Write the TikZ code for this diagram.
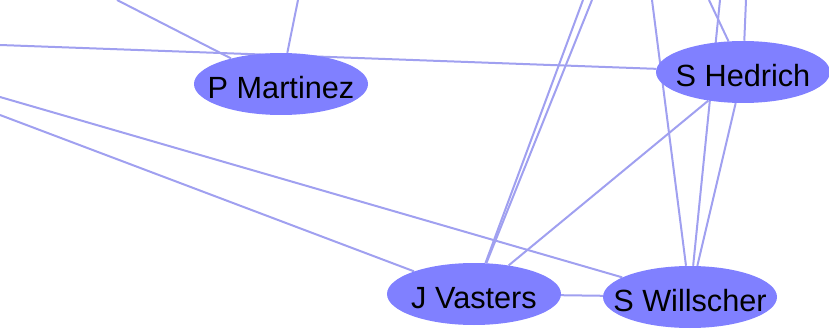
\documentclass[tikz,border=0pt]{standalone}
\usepackage{fontspec}
\setmainfont{Liberation Sans}
\usetikzlibrary{positioning,shapes,backgrounds}
\definecolor{nodeblue}{RGB}{128,128,255}
\definecolor{edgeblue}{RGB}{160,160,240}
\tikzset{
  person/.style={ellipse,fill=nodeblue,minimum width=130.5pt,minimum height=46.5pt,
    inner xsep=-15pt,inner ysep=0pt,text height=22pt,text depth=0pt,
    font=\fontsize{23}{26}\selectfont},
  link/.style={draw=edgeblue,line width=1.5pt}
}
\begin{document}
\begin{tikzpicture}[x=0.75pt,y=0.75pt,on grid]
		\useasboundingbox (0,0) rectangle (829,329);
		\node[person] (pm) at (281,245) {P Martinez};
		\node[person] (sh) [above right=9pt and 346.5pt of pm] {S Hedrich};
		\node[person] (jv) [below right=157.5pt and 144.75pt of pm] {J Vasters};
		\node[person] (sw) [below right=2.25pt and 162pt of jv] {S Willscher};
		% ends of the links that leave the picture
		\coordinate (top1) at (117,329);
		\coordinate (top2) at (298,329);
		\coordinate (top3) at (583,329);
		\coordinate (top4) at (592,329);
		\coordinate (top5) at (652,329);
		\coordinate (top6) at (709,329);
		\coordinate (top7) at (720,329);
		\coordinate (top8) at (746,329);
		\coordinate (left1) at (0,284);
		\coordinate (left2) at (0,232);
		\coordinate (left3) at (0,214);
		\begin{scope}[on background layer]
		\path[link]
		(top1) edge (pm)
		(top2) edge (pm)
		(left1) edge (sh)
		(left2) edge (sw)
		(left3) edge (jv)
		(top3) edge (jv)
		(top4) edge (jv)
		(top5) edge (sw)
		(top6) edge (sh)
		(top7) edge (sw)
		(top8) edge (sh)
		(jv) edge (sw)
		     edge (sh)
		(sh) edge (sw)
		;
		\end{scope}
	\end{tikzpicture}
\end{document}
